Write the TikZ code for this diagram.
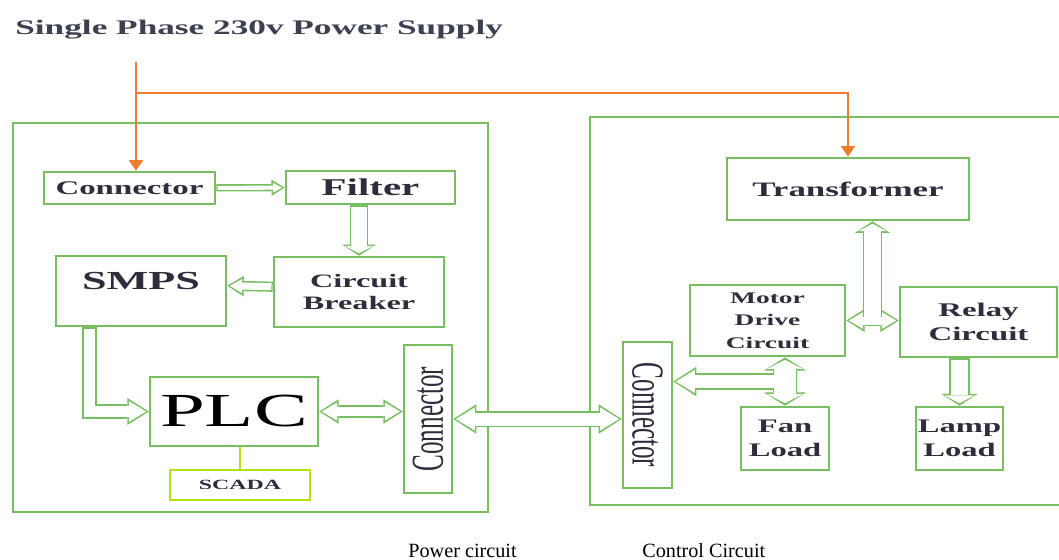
\documentclass[tikz,border=0pt]{standalone}
\usepackage{fontspec}
\setmainfont{Liberation Serif}
\newfontfamily\widefont[FakeStretch=1.7]{Liberation Serif}
\newfontfamily\tallfont[FakeStretch=0.55]{Liberation Serif}
\usetikzlibrary{arrows.meta,calc,positioning}
\definecolor{boxgreen}{RGB}{118,190,96}
\definecolor{feedorange}{RGB}{237,125,49}
\definecolor{scadalime}{RGB}{176,228,20}
\definecolor{inkdark}{RGB}{45,45,60}
\definecolor{titlegray}{RGB}{60,64,80}
\newcommand{\fsz}[2]{\fontsize{#1}{#2}\selectfont}
\def\pgap{4pt}\def\pwid{5.6pt}\def\plen{9pt}\def\phead{13pt}\def\ilen{7pt}\def\ihead{10pt}
\def\hfac{1.1}\def\hadd{3pt}

% hollow double-line arrows: green outer stroke, white inner stroke
\tikzset{
  short head/.code={\def\hfac{0.4}\def\hadd{2pt}},
  pipe size/.code={%
    \pgfmathsetlengthmacro\pgap{#1}%
    \pgfmathsetlengthmacro\pwid{#1+1.8pt}%
    \pgfmathsetlengthmacro\plen{\hfac*(#1+1.8pt)+\hadd}%
    \pgfmathsetlengthmacro\phead{1.5*(#1+1.8pt)+3pt}%
    \pgfmathsetlengthmacro\ilen{\plen-2.3pt}%
    \pgfmathsetlengthmacro\ihead{\phead-3.6pt}%
  },
  pipe/.style={pipe size=#1, draw=white, line width=\pgap,
    -{Triangle[length=\ilen, width=\ihead, line width=0pt]},
    shorten <=0.7pt, shorten >=1.4pt,
    preaction={draw=boxgreen, line width=\pwid, -{Triangle[length=\plen, width=\phead, line width=0pt]},
      shorten <=0pt, shorten >=0pt}},
  pipes/.style={pipe size=#1, draw=white, line width=\pgap,
    {Triangle[length=\ilen, width=\ihead, line width=0pt]}-{Triangle[length=\ilen, width=\ihead, line width=0pt]},
    shorten <=1.4pt, shorten >=1.4pt,
    preaction={draw=boxgreen, line width=\pwid,
      {Triangle[length=\plen, width=\phead, line width=0pt]}-{Triangle[length=\plen, width=\phead, line width=0pt]},
      shorten <=0pt, shorten >=0pt}},
}

\begin{document}
\begin{tikzpicture}[
    x=0.02cm, y=-0.02cm,
    blok/.style={rectangle, draw=boxgreen, line width=1.5pt, inner sep=1pt, align=center, text=inkdark},
    rama/.style={draw=boxgreen, line width=1.5pt},
    feed/.style={draw=feedorange, line width=1.1pt, -{Triangle[length=6pt, width=8pt]}},
    vlabel/.style={font=\tallfont\fsz{26}{26}, text=inkdark}
]
\useasboundingbox (0,0) rectangle (1059,559);

% Title
\node[anchor=base west, inner sep=0pt, font=\widefont\bfseries\fsz{11.8}{14}, text=titlegray] (title) at (15,34) {Single Phase 230v Power Supply};

% Frames
\draw[rama] (13,123) rectangle (488,512);
\draw[rama] (590,117) rectangle (1066,505);

% Power circuit
\node[blok, minimum width=3.42cm, minimum height=0.64cm, font=\widefont\bfseries\fsz{11}{13}] (conn) at (129.5,188) {Connector};
\node[blok, minimum width=3.38cm, minimum height=0.66cm, font=\widefont\bfseries\fsz{13.7}{15}] (filter) at (370.5,187.5) {Filter};
\node[blok, minimum width=3.4cm, minimum height=1.4cm, text depth=11pt, font=\widefont\bfseries\fsz{14.8}{16}] (smps) at (141,291) {SMPS};
\node[blok, minimum width=3.4cm, minimum height=1.4cm, font=\widefont\bfseries\fsz{10.8}{13}] (cb) at (359,292) {Circuit\\Breaker};
\node[blok, minimum width=3.36cm, minimum height=1.38cm, text=black, font=\widefont\fsz{27}{28}] (plc) at (234,411.5) {PLC};
\node[blok, draw=scadalime, minimum width=2.8cm, minimum height=0.6cm, font=\widefont\bfseries\fsz{8}{9}] (scada) at (240,485) {SCADA};
\node[blok, minimum width=0.96cm, minimum height=2.96cm, label={[vlabel, rotate=90]center:Connector}] (conL) at (428,419) {};

% Control circuit
\node[blok, minimum width=0.98cm, minimum height=2.92cm, label={[vlabel, rotate=-90]center:Connector}] (conR) at (647.5,415) {};
\node[blok, minimum width=4.84cm, minimum height=1.24cm, font=\widefont\bfseries\fsz{11.7}{13}] (trans) at (848,189) {Transformer};
\node[blok, minimum width=3.1cm, minimum height=1.42cm, font=\widefont\bfseries\fsz{9.2}{12.8}] (motor) at (767.5,320.5) {Motor\\Drive\\Circuit};
\node[blok, minimum width=3.14cm, minimum height=1.4cm, font=\widefont\bfseries\fsz{11}{14}] (relay) at (978.5,322) {Relay\\Circuit};
\node[blok, minimum width=1.76cm, minimum height=1.26cm, font=\widefont\bfseries\fsz{10.9}{14}] (fan) at (785,438.5) {Fan\\Load};
\node[blok, minimum width=1.74cm, minimum height=1.26cm, font=\widefont\bfseries\fsz{10.9}{14}] (lamp) at (959.5,438.5) {Lamp\\Load};

% Supply feed
\coordinate (mains) at (136,62);
\coordinate (split) at (136,93);
\draw[feed] (mains) -- (mains |- conn.north);
\draw[feed, line width=0.7pt] (split) -| (trans.north);

% Power circuit links
\draw[pipe=2.3pt] (conn) -- (filter);
\draw[short head, pipe=9pt] (cb.north |- filter.south) -- (cb.north);
\draw[pipe=4pt] ([yshift=3pt]cb.west) -- ([yshift=3pt]smps.east);
\draw[pipe=6.5pt] ($(smps.south west)!0.2!(smps.south east)$) |- (plc.west);
\draw[pipes=5.5pt] (plc.east) -- (plc.east -| conL.west);
\draw[draw=scadalime, line width=1.5pt] (scada.north) -- (scada.north |- plc.south);

% Between the two circuits
\draw[pipes=7.4pt] (conL.east) -- (conL.east -| conR.west);

% Control circuit links
\draw[pipes=5pt] (motor.east) -- (motor.east -| relay.west);
\coordinate (mrjoin) at ([yshift=2.5pt]$(motor.east)!0.5!(relay.west)$);
\draw[short head, pipe=9.5pt, shorten <=0pt] (mrjoin) -- (mrjoin |- trans.south);
\draw[short head, pipes=12pt] (fan.north |- motor.south) -- (fan.north);
\coordinate (mfjoin) at ([xshift=-6pt]$(fan.north |- motor.south)!0.5!(fan.north)$);
\draw[pipe=7.4pt, shorten <=0pt] (mfjoin) -- (mfjoin -| conR.east);
\draw[short head, pipe=10pt] (lamp.north |- relay.south) -- (lamp.north);

% Captions
\node[anchor=base east, inner sep=0pt, font=\fsz{11.5}{13}] (powerlbl) at (517,557) {Power circuit};
\node[anchor=base west, inner sep=0pt, font=\fsz{11.5}{13}] (controllbl) at (642,557) {Control Circuit};
\end{tikzpicture}
\end{document}
